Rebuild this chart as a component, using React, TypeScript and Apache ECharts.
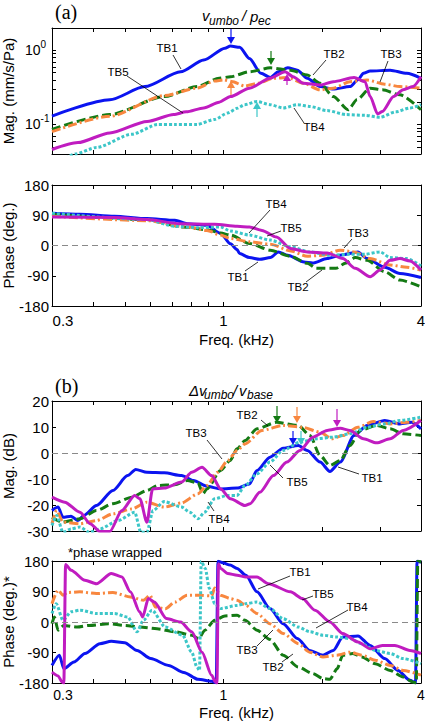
import React, { useEffect, useRef } from 'react';
import * as echarts from 'echarts';

// ---------- axis values ----------
const FREQ_LABELS = [0.3, 1, 4];
const FREQ_TICKS = [0.3, 0.4, 0.5, 0.6, 0.7, 0.8, 0.9, 1, 2, 3, 4];
const MAG_A_LABELS = [0.1, 1];
const MAG_A_TICKS = [0.04, 0.05, 0.06, 0.07, 0.08, 0.09, 0.1, 0.2, 0.3, 0.4, 0.5, 0.6, 0.7, 0.8, 0.9, 1, 2];
const SPECIMENS = ['TB1', 'TB2', 'TB3', 'TB4', 'TB5'];

// ---------- (a) v_umbo / p_ec magnitude (mm/s/Pa) ----------
const magA_TB1 = [[0.30,0.13],[0.45,0.215],[0.576,0.324],[0.74,0.514],[0.87,0.74],[1.01,1.07],[1.05,1.14],[1.12,1.1],[1.2,0.775],[1.3,0.49],[1.39,0.43],[1.47,0.514],[1.57,0.58],[1.68,0.54],[1.8,0.42],[1.97,0.324],[2.16,0.30],[2.43,0.324],[2.57,0.40],[2.67,0.49],[2.8,0.525],[3.22,0.54],[3.62,0.49],[4.0,0.42]];
const magA_TB2 = [[0.30,0.086],[0.45,0.136],[0.66,0.238],[0.83,0.324],[0.97,0.42],[1.05,0.44],[1.2,0.514],[1.39,0.58],[1.6,0.54],[1.8,0.464],[1.97,0.36],[2.16,0.238],[2.4,0.158],[2.55,0.215],[2.8,0.309],[3.05,0.293],[3.45,0.251],[4.0,0.158]];
const magA_TB3 = [[0.30,0.08],[0.45,0.129],[0.66,0.245],[0.83,0.309],[0.94,0.386],[1.0,0.40],[1.06,0.38],[1.16,0.33],[1.27,0.36],[1.42,0.42],[1.57,0.43],[1.75,0.36],[1.97,0.293],[2.16,0.309],[2.43,0.378],[2.74,0.398],[3.1,0.35],[3.45,0.324],[4.0,0.309]];
const magA_TB4 = [[0.33,0.035],[0.353,0.04],[0.41,0.049],[0.526,0.074],[0.63,0.1],[0.71,0.1],[0.83,0.1],[0.94,0.117],[1.03,0.143],[1.1,0.165],[1.16,0.185],[1.265,0.204],[1.386,0.185],[1.52,0.167],[1.68,0.185],[1.83,0.175],[2.07,0.154],[2.37,0.136],[2.7,0.133],[3.0,0.125],[3.35,0.148],[3.7,0.167],[4.0,0.185]];
const magA_TB5 = [[0.30,0.046],[0.36,0.057],[0.45,0.077],[0.585,0.11],[0.705,0.136],[0.77,0.148],[0.87,0.167],[0.97,0.2],[1.05,0.238],[1.2,0.309],[1.386,0.42],[1.54,0.514],[1.63,0.44],[1.75,0.36],[1.97,0.341],[2.16,0.378],[2.5,0.43],[2.7,0.378],[2.8,0.238],[2.95,0.139],[3.05,0.15],[3.3,0.238],[3.53,0.293],[3.78,0.324],[4.0,0.44]];

// ---------- (a) phase (deg.) ----------
const phaseA_TB1 = [[0.30,96],[0.365,93],[0.465,87],[0.584,80],[0.711,75],[0.775,65],[0.89,60],[0.98,36],[1.05,5],[1.1,-12],[1.12,-24],[1.2,-36],[1.29,-41],[1.39,-36],[1.47,-19],[1.57,-29],[1.76,-49],[1.87,-52],[2.07,-39],[2.27,-29],[2.57,-19],[2.74,-39],[3.1,-65],[3.45,-83],[4.0,-95]];
const phaseA_TB2 = [[0.30,93],[0.584,77],[0.752,55],[0.89,47],[0.98,37],[1.05,31],[1.2,6],[1.39,-14],[1.6,-32],[1.8,-53],[1.92,-68],[2.2,-68],[2.35,-53],[2.52,-36],[2.74,-44],[3.1,-78],[3.45,-103],[4.0,-123]];
const phaseA_TB3 = [[0.30,87],[0.584,74],[0.775,55],[0.89,45],[0.98,31],[1.05,21],[1.2,11],[1.39,4],[1.6,-16],[1.8,-32],[2.0,-29],[2.27,-14],[2.5,-19],[2.8,-39],[3.22,-58],[3.62,-65],[4.0,-73]];
const phaseA_TB4 = [[0.30,96],[0.584,77],[0.711,57],[0.836,53],[0.98,55],[1.05,43],[1.2,31],[1.39,16],[1.6,-4],[1.83,-19],[2.11,-29],[2.43,-26],[2.7,-26],[3.0,-19],[3.22,-36],[3.62,-39],[4.0,-61]];
const phaseA_TB5 = [[0.30,85],[0.465,83],[0.584,77],[0.737,65],[0.94,63],[1.1,57],[1.2,55],[1.31,45],[1.45,25],[1.6,-9],[1.8,-19],[2.07,-22],[2.31,-39],[2.52,-68],[2.8,-93],[3.0,-73],[3.22,-44],[3.45,-39],[3.7,-46],[4.0,-73]];

// ---------- (b) delta v_umbo / v_base magnitude (dB) ----------
const magB_TB1 = [[0.30,-22.1],[0.313,-20.8],[0.324,-24.7],[0.343,-24.3],[0.36,-26],[0.375,-24],[0.41,-20.2],[0.46,-14.4],[0.51,-8.7],[0.54,-6.3],[0.584,-7.4],[0.66,-7.6],[0.745,-8.7],[0.81,-10.6],[0.89,-12.8],[0.98,-13.8],[1.1,-13.5],[1.2,-11.9],[1.265,-6.7],[1.386,-1.6],[1.52,1.8],[1.69,2.9],[1.8,1],[1.97,-3.5],[2.11,-7.1],[2.27,-3.5],[2.5,6.7],[2.74,10.6],[3.1,12.5],[3.45,11.2],[3.75,11.8],[4.0,9.3]];
const magB_TB2 = [[0.30,-24.7],[0.322,-26.6],[0.365,-25.3],[0.41,-22.1],[0.46,-19.5],[0.526,-17],[0.584,-14.4],[0.63,-12.5],[0.71,-12.2],[0.775,-10.6],[0.836,-11.5],[0.866,-15.7],[0.89,-13.8],[0.98,-6.7],[1.047,-2.9],[1.1,1.6],[1.163,4.8],[1.265,9.3],[1.45,11.8],[1.69,10.6],[1.835,6.7],[1.97,-1],[2.11,-4.8],[2.27,-2.9],[2.43,2.9],[2.61,8.7],[2.93,10.6],[3.22,9.3],[3.53,7.4],[4.0,6.7]];
const magB_TB3 = [[0.30,-27.2],[0.31,-22.1],[0.324,-26.6],[0.365,-27.2],[0.41,-26],[0.46,-23.4],[0.526,-21.5],[0.584,-18.9],[0.66,-20.8],[0.745,-19.2],[0.836,-15.7],[0.89,-12.5],[0.96,-7.4],[1.03,-2.9],[1.1,1],[1.163,3.5],[1.31,8.7],[1.52,10.6],[1.74,9.9],[1.97,8],[2.14,5.5],[2.31,6.7],[2.57,9.9],[2.86,12.1],[3.22,11.2],[3.62,11.8],[4.0,12.5]];
const magB_TB4 = [[0.30,-27.9],[0.31,-24],[0.324,-30.5],[0.343,-29.2],[0.365,-28.5],[0.39,-30.5],[0.42,-29.2],[0.477,-26],[0.536,-22.8],[0.56,-30.5],[0.584,-30.5],[0.61,-22.1],[0.66,-18.7],[0.745,-20.8],[0.79,-22.8],[0.836,-25.3],[0.875,-22.8],[0.94,-17.6],[1.03,-16.3],[1.1,-16.3],[1.163,-12.5],[1.265,-8],[1.386,-3.5],[1.52,1],[1.71,4.2],[1.93,5.5],[2.16,6.1],[2.43,7.4],[2.74,9.9],[3.1,11.2],[3.45,12.5],[4.0,13.8]];
const magB_TB5 = [[0.30,-17],[0.328,-18.9],[0.365,-22.8],[0.392,-27.2],[0.42,-30.2],[0.45,-30.2],[0.49,-22.1],[0.536,-16.3],[0.556,-17.6],[0.584,-26.6],[0.608,-13.8],[0.66,-13.5],[0.745,-11.2],[0.8,-7.4],[0.86,-5.5],[0.92,-8.7],[0.98,-13.8],[1.05,-17.6],[1.163,-20.2],[1.205,-19.5],[1.29,-15.1],[1.42,-8.7],[1.56,-3.5],[1.71,1],[1.87,6.1],[2.07,8.7],[2.27,9.5],[2.43,8.7],[2.67,5.5],[2.93,3.9],[3.22,5.5],[3.53,8.7],[4.0,12.5]];

// ---------- (b) phase (deg.), wrapped ----------
const phaseB_TB1 = [[0.30,-128],[0.316,-98],[0.326,-138],[0.35,-118],[0.378,-93],[0.42,-64],[0.455,-57],[0.5,-61],[0.545,-84],[0.60,-108],[0.68,-128],[0.757,-149],[0.836,-169],[0.92,-175],[0.95,-179],[0.962,179],[1.0,174],[1.047,168],[1.1,158],[1.17,138],[1.265,89],[1.386,40],[1.52,-5],[1.68,-49],[1.83,-84],[2.01,-98],[2.16,-84],[2.31,-44],[2.57,-41],[2.8,-69],[3.1,-108],[3.4,-143],[3.7,-172],[3.85,-179],[3.89,179],[4.0,176]];
const phaseB_TB2 = [[0.30,-5],[0.305,15],[0.313,-24],[0.326,-10],[0.358,-15],[0.39,-10],[0.446,-5],[0.5,-10],[0.556,-15],[0.627,-20],[0.71,-29],[0.8,-39],[0.84,-49],[0.878,-24],[0.94,5],[1.01,18],[1.1,20],[1.163,5],[1.265,-24],[1.386,-52],[1.52,-98],[1.69,-133],[1.87,-152],[2.01,-167],[2.11,-169],[2.22,-138],[2.31,-98],[2.48,-93],[2.64,-103],[2.9,-123],[3.22,-143],[3.53,-162],[3.78,-177],[3.87,-180],[3.91,179],[4.0,178]];
const phaseB_TB3 = [[0.30,54],[0.313,94],[0.324,79],[0.334,87],[0.365,89],[0.41,84],[0.46,87],[0.52,74],[0.57,64],[0.597,79],[0.62,44],[0.665,39],[0.711,59],[0.775,79],[0.85,79],[0.92,77],[0.94,100],[0.98,79],[1.05,69],[1.1,64],[1.17,49],[1.265,25],[1.386,-5],[1.52,-34],[1.69,-64],[1.83,-89],[2.01,-103],[2.22,-98],[2.43,-89],[2.64,-98],[2.9,-113],[3.22,-128],[3.53,-143],[4.0,-157]];
const phaseB_TB4 = [[0.30,25],[0.309,54],[0.324,5],[0.343,30],[0.365,35],[0.41,25],[0.465,25],[0.51,15],[0.545,-29],[0.57,5],[0.605,35],[0.665,-15],[0.75,-39],[0.8,-89],[0.83,-133],[0.845,-143],[0.855,179],[0.88,158],[0.905,99],[0.94,54],[0.98,40],[1.1,49],[1.17,54],[1.265,59],[1.386,40],[1.52,10],[1.69,-15],[1.835,-29],[2.01,-39],[2.2,-44],[2.43,-49],[2.64,-64],[2.9,-84],[3.22,-93],[3.53,-108],[4.0,-123]];
const phaseB_TB5 = [[0.30,-148],[0.313,-159],[0.322,-177],[0.326,-180],[0.33,170],[0.343,153],[0.378,123],[0.41,113],[0.455,143],[0.49,133],[0.52,89],[0.555,30],[0.567,15],[0.59,69],[0.615,59],[0.67,10],[0.74,0],[0.8,-29],[0.86,-89],[0.92,-157],[0.945,-177],[0.955,-180],[0.965,172],[0.98,158],[1.03,143],[1.1,138],[1.17,133],[1.265,133],[1.37,113],[1.6,89],[1.74,69],[1.9,35],[2.11,0],[2.31,-34],[2.57,-59],[2.8,-79],[3.05,-69],[3.33,-69],[3.7,-84],[4.0,-93]];

const PANELS = [
  [magA_TB1, magA_TB2, magA_TB3, magA_TB4, magA_TB5],
  [phaseA_TB1, phaseA_TB2, phaseA_TB3, phaseA_TB4, phaseA_TB5],
  [magB_TB1, magB_TB2, magB_TB3, magB_TB4, magB_TB5],
  [phaseB_TB1, phaseB_TB2, phaseB_TB3, phaseB_TB4, phaseB_TB5],
];

// ---------- styling ----------
const FONT = '"Liberation Sans", Arial, Helvetica, sans-serif';
const SERIF = '"Liberation Serif", "Times New Roman", serif';
const COLORS: Record<string, string> = { TB1: '#0b14f0', TB2: '#147a14', TB3: '#f8873f', TB4: '#3cc6c8', TB5: '#c01cc0' };
const DASH: Record<string, any> = { TB1: 'solid', TB2: [9, 4], TB3: [9, 3, 2, 3], TB4: [3, 2], TB5: 'solid' };
const GRIDS = [
  { left: 52, top: 28, width: 369, height: 126 },
  { left: 52, top: 185, width: 369, height: 121 },
  { left: 52, top: 401, width: 369, height: 130 },
  { left: 52, top: 561, width: 369, height: 122 },
];

// annotation: text, cx, cy, leader x1, y1, x2, y2
const LABELS: [string, number, number, number, number, number, number][] = [
  ['TB1', 167, 48, 173, 55, 181, 69],
  ['TB5', 118, 72, 127, 76, 183, 113],
  ['TB2', 334, 54, 326, 60, 313, 75],
  ['TB3', 391, 54, 388, 61, 380, 82],
  ['TB4', 314, 127, 304, 123, 294, 108],
  ['TB4', 276, 204, 270, 210, 249, 233],
  ['TB5', 291, 228, 281, 231, 267, 236],
  ['TB3', 358, 233, 352, 239, 344, 248],
  ['TB1', 238, 277, 245, 271, 258, 262],
  ['TB2', 298, 287, 306, 282, 322, 270],
  ['TB2', 247, 415, 261, 420, 268, 426],
  ['TB3', 196, 433, 207, 440, 222, 459],
  ['TB4', 219, 519, 214, 511, 208, 502],
  ['TB5', 297, 482, 283, 478, 270, 465],
  ['TB1', 372, 478, 359, 474, 338, 467],
  ['TB1', 300, 572, 290, 576, 258, 589],
  ['TB5', 323, 594, 313, 596, 302, 600],
  ['TB4', 357, 607, 348, 610, 316, 628],
  ['TB3', 247, 650, 257, 646, 273, 630],
  ['TB2', 273, 667, 282, 662, 293, 654],
];
// arrows: specimen, x, tail y, tip y
const ARROWS: [string, number, number, number][] = [
  ['TB1', 231, 29, 44],
  ['TB2', 271, 51, 65],
  ['TB3', 231, 95, 81],
  ['TB5', 287, 85, 74],
  ['TB4', 257, 117, 102],
  ['TB2', 277, 406, 423],
  ['TB3', 297, 407, 423],
  ['TB5', 337, 409, 427],
  ['TB1', 293, 431, 445],
  ['TB4', 301, 431, 445],
];

function buildGraphic() {
  const els: any[] = [];
  LABELS.forEach(([t, cx, cy, x1, y1, x2, y2]) => {
    els.push({ type: 'line', z: 100, shape: { x1, y1, x2, y2 }, style: { stroke: '#000', lineWidth: 0.8 } });
    els.push({ type: 'text', z: 101, x: cx, y: cy, style: { text: t, fontSize: 11.5, fontFamily: FONT, fill: '#000', align: 'center', verticalAlign: 'middle' } });
  });
  ARROWS.forEach(([s, x, tail, tip]) => {
    const dir = tip > tail ? 1 : -1;
    const base = tip - dir * 7;
    const c = COLORS[s];
    els.push({ type: 'line', z: 100, shape: { x1: x, y1: tail, x2: x, y2: base }, style: { stroke: c, lineWidth: 1.2 } });
    els.push({ type: 'polygon', z: 100, shape: { points: [[x - 4, base], [x + 4, base], [x, tip]] }, style: { fill: c } });
  });
  const t = (text: string, x: number, y: number, size: number, extra: any = {}) => ({
    type: 'text', z: 101, x, y,
    style: { text, fontSize: size, fontFamily: FONT, fill: '#000', align: 'left', verticalAlign: 'middle', ...extra },
  });
  // titles
  els.push(t('(a)', 55, 12, 20, { fontFamily: SERIF }));
  els.push(t('(b)', 55, 386, 20, { fontFamily: SERIF }));
  els.push(t('v', 202, 15, 15, { fontStyle: 'italic' }));
  els.push(t('umbo', 209, 21, 12, { fontStyle: 'italic' }));
  els.push(t('/', 242, 15, 15, { fontStyle: 'italic' }));
  els.push(t('p', 250, 16, 15, { fontStyle: 'italic' }));
  els.push(t('ec', 258, 21, 12, { fontStyle: 'italic' }));
  els.push(t('\u0394v', 189, 390, 15, { fontStyle: 'italic' }));
  els.push(t('umbo', 204, 395, 12, { fontStyle: 'italic' }));
  els.push(t('/', 233, 390, 15, { fontStyle: 'italic' }));
  els.push(t('v', 239, 390, 15, { fontStyle: 'italic' }));
  els.push(t('base', 247, 395, 12, { fontStyle: 'italic' }));
  els.push(t('*phase wrapped', 68, 552, 13));
  return els;
}

const near = (a: number, b: number) => Math.abs(a - b) < 1e-6;

function buildOption() {
  const xAxis: any[] = [];
  const yAxis: any[] = [];
  const series: any[] = [];
  const axisLine = { show: true, onZero: false, lineStyle: { color: '#000', width: 1 } };
  const tickStyle = { color: '#000', width: 1 };
  const names = ['Mag. (mm/s/Pa)', 'Phase (deg.)', 'Mag. (dB)', 'Phase (deg.)*'];

  GRIDS.forEach((_, g) => {
    const showX = g === 1 || g === 3;
    const fs = g === 1 ? 15 : 14;
    const xCommon = {
      type: 'log', logBase: 10, min: 0.3, max: 4, gridIndex: g,
      axisLine, splitLine: { show: false },
      axisTick: { show: true, inside: true, length: 4, customValues: FREQ_TICKS, lineStyle: tickStyle },
    };
    xAxis.push({
      ...xCommon, position: 'bottom',
      axisLabel: showX ? {
        show: true, customValues: FREQ_LABELS, margin: g === 1 ? 7 : 5, color: '#000', fontSize: fs, fontFamily: FONT,
        formatter: (v: number) => (near(v, 0.3) ? '{l|0.3}' : '{n|' + (near(v, 1) ? '1' : '4') + '}'),
        rich: {
          l: { fontSize: fs, fontFamily: FONT, color: '#000', padding: [0, 0, 0, 22] },
          n: { fontSize: fs, fontFamily: FONT, color: '#000' },
        },
      } : { show: false },
      name: showX ? 'Freq. (kHz)' : '', nameLocation: 'middle', nameGap: g === 1 ? 26 : 22, nameMoveOverlap: false,
      nameTextStyle: { color: '#000', fontSize: 15, fontFamily: FONT },
    });
    xAxis.push({ ...xCommon, position: 'top', axisLabel: { show: false } });

    let yCommon: any;
    let label: any;
    if (g === 0) {
      yCommon = {
        type: 'log', logBase: 10, min: 0.04, max: 2, gridIndex: g, axisLine, splitLine: { show: false },
        axisTick: { show: true, inside: true, length: 4, customValues: MAG_A_TICKS, lineStyle: tickStyle },
      };
      label = {
        show: true, customValues: MAG_A_LABELS, align: 'left', margin: 27, color: '#000',
        formatter: (v: number) => (near(v, 1) ? '{b|10}{s|0}' : near(v, 0.1) ? '{b|10}{s|-1}' : ''),
        rich: {
          b: { fontSize: 14, fontFamily: FONT, color: '#000' },
          s: { fontSize: 10, fontFamily: FONT, color: '#000', padding: [0, 0, 11, 0] },
        },
      };
    } else {
      const isPhase = g !== 2;
      yCommon = {
        type: 'value', gridIndex: g, axisLine, splitLine: { show: false },
        min: isPhase ? -180 : -30, max: isPhase ? 180 : 20, interval: isPhase ? 90 : 10,
        axisTick: { show: true, inside: true, length: 4, lineStyle: tickStyle },
      };
      label = { show: true, margin: 3, color: '#000', fontSize: 15, fontFamily: FONT };
    }
    yAxis.push({
      ...yCommon, position: 'left', axisLabel: label,
      name: names[g], nameLocation: 'middle', nameGap: 36, nameMoveOverlap: false,
      nameTextStyle: { color: '#000', fontSize: 15, fontFamily: FONT },
    });
    yAxis.push({ ...yCommon, position: 'right', axisLabel: { show: false } });

    if (g > 0) {
      series.push({
        type: 'line', name: 'zero' + g, data: [], xAxisIndex: 2 * g, yAxisIndex: 2 * g, z: 1, silent: true,
        markLine: {
          silent: true, symbol: ['none', 'none'], label: { show: false },
          lineStyle: { color: '#8a8a8a', type: [6, 4], width: 1 },
          data: [{ yAxis: 0 }],
        },
      });
    }
    PANELS[g].forEach((data, i) => {
      const s = SPECIMENS[i];
      series.push({
        type: 'line', name: s + '-' + g, data, xAxisIndex: 2 * g, yAxisIndex: 2 * g,
        showSymbol: false, symbol: 'none', smooth: 0.25, smoothMonotone: 'x', z: 2,
        lineStyle: { color: COLORS[s], width: 3, type: DASH[s], cap: 'butt', join: 'round' },
        itemStyle: { color: COLORS[s] }, silent: true,
      });
    });
  });

  return {
    animation: false,
    backgroundColor: '#fff',
    textStyle: { fontFamily: FONT },
    grid: GRIDS.map((g) => ({ ...g, containLabel: false, outerBoundsMode: 'none', show: false })),
    xAxis, yAxis, series,
    graphic: { elements: buildGraphic() },
  };
}

export default function App() {
  const ref = useRef<HTMLDivElement>(null);
  useEffect(() => {
    if (!ref.current) return;
    const chart = echarts.init(ref.current, undefined, { renderer: 'svg' });
    chart.setOption(buildOption() as any);
    return () => chart.dispose();
  }, []);
  return <div ref={ref} style={{ position: 'absolute', left: 0, top: 0, width: 425, height: 721, background: '#fff' }} />;
}
